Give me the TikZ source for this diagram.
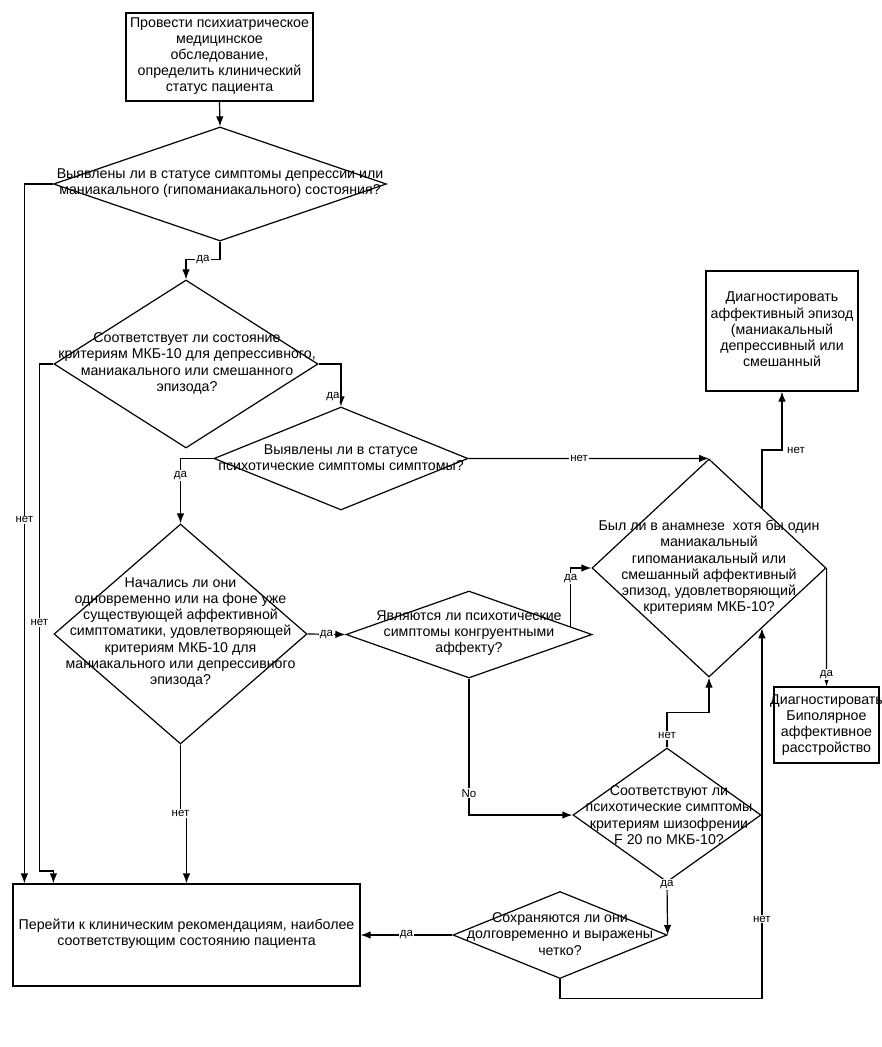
\documentclass[tikz,border=0pt]{standalone}
\usepackage{fontspec}
\setmainfont{Liberation Sans}
\usetikzlibrary{shapes.geometric,arrows.meta,calc}
\begin{document}
\begin{tikzpicture}[x=1pt,y=-1pt,
  box/.style={draw, line width=1.2pt, rectangle, inner sep=0},
  dia/.style={draw, line width=1.2pt, diamond, inner sep=0},
  txt/.style={font=\fontsize{14.2}{16.2}\selectfont, align=center, inner sep=0},
  lbl/.style={font=\fontsize{11.5}{13}\selectfont, fill=white, inner sep=1pt},
  arr/.style={line width=1.2pt, -{Latex[length=10pt,width=7.5pt]}},
  ln/.style={line width=1.2pt}]
\useasboundingbox (0,0) rectangle (881,1047);

% boxes
\node[box, minimum width=187pt, minimum height=88pt] (b1) at (219.5,57) {};
\node[txt] (b1t) at (219.5,56) {Провести психиатрическое\\медицинское\\обследование,\\определить клинический\\статус пациента};

\node[box, minimum width=152pt, minimum height=120pt] (aff) at (782,331) {};
\node[txt] (afft) at (782,329.5) {Диагностировать\\аффективный эпизод\\(маниакальный\\депрессивный или\\смешанный};

\node[box, minimum width=105pt, minimum height=76pt] (bip) at (826.5,725) {};
\node[txt] (bipt) at (826.5,725) {Диагностировать\\Биполярное\\аффективное\\расстройство};

\node[box, minimum width=347pt, minimum height=102pt] (fin) at (186.5,935) {};
\node[txt] (fint) at (186.5,934) {Перейти к клиническим рекомендациям, наиболее\\соответствующим состоянию пациента};

% diamonds
\node[dia, minimum width=333pt, minimum height=114pt] (d1) at (220,184) {};
\node[txt] (d1t) at (220,183) {Выявлены ли в статусе симптомы депрессии или\\маниакального (гипоманиакального) состояния?};

\node[dia, minimum width=264pt, minimum height=168pt] (d2) at (186,364) {};
\node[txt] (d2t) at (187,363.5) {Соответствует ли состояние\\критериям МКБ-10 для депрессивного,\\маниакального или смешанного\\эпизода?};

\node[dia, minimum width=254pt, minimum height=103pt] (d3) at (341,458.5) {};
\node[txt] (d3t) at (341,457.5) {Выявлены ли в статусе\\психотические симптомы симптомы?};

\node[dia, minimum width=253pt, minimum height=220pt] (d4) at (180.5,634) {};
\node[txt] (d4t) at (180.5,632.5) {Начались ли они\\одновременно или на фоне уже\\существующей аффективной\\симптоматики, удовлетворяющей\\критериям МКБ-10 для\\маниакального или депрессивного\\эпизода?};

\node[dia, minimum width=234pt, minimum height=218pt] (d5) at (709,568) {};
\node[txt] (d5t) at (709,567.5) {Был ли в анамнезе~ хотя бы один\\маниакальный\\гипоманиакальный или\\смешанный аффективный\\эпизод, удовлетворяющий\\критериям МКБ-10?};

\node[dia, minimum width=246pt, minimum height=87pt] (d6) at (469,634.5) {};
\node[txt] (d6t) at (469,633) {Являются ли психотические\\симптомы конгруентными\\аффекту?};

\node[dia, minimum width=188pt, minimum height=134pt] (d7) at (667,815) {};
\node[txt] (d7t) at (669,815) {Соответствуют ли\\психотические симптомы\\критериям шизофрении\\F 20 по МКБ-10?};

\node[dia, minimum width=214pt, minimum height=87pt] (d8) at (560,935) {};
\node[txt] (d8t) at (560,934) {Сохраняются ли они\\долговременно и выражены\\четко?};

% connectors
\draw[arr] (b1.south) -- (d1.north);

\draw[arr] (d1.south) -- ++(0,18) coordinate (c1)
  -- node[lbl]{да} (c1 -| d2.north) -- (d2.north);

\draw[arr] (d1.west) -| ([xshift=12pt]fin.north west) node[lbl, pos=0.74]{нет};

\draw[arr] (d2.west) -- ++(-14,0) coordinate (c2)
  -- node[lbl, pos=0.51]{нет} (c2 |- 0,871) coordinate (c3)
  -| ([xshift=41pt]fin.north west);

\draw[arr] (d2.east) -| (d3.north) node[lbl, pos=0.88, left=0pt]{да};

\draw[arr] (d3.west) -| (d4.north) node[lbl, pos=0.63]{да};

\draw[arr] (d3.east) -- node[lbl, pos=0.46]{нет} (d5.north);

\coordinate (p1) at ($(d5.north)!0.45!(d5.east)$);
\draw[arr] (p1) -- (p1 |- 0,450) coordinate (c4) -| (aff.south);
\node[lbl, fill=none, anchor=west] (lnet1) at ($(c4 -| aff.south)+(4,0)$) {нет};

\draw[arr] (d5.east) -- (bip.north) node[lbl, pos=0.9]{да};

\draw[arr] (d4.east) -- node[lbl]{да} (d6.west);

\coordinate (p2) at ($(d6.north)!0.823!(d6.east)$);
\draw[arr] (p2) |- (d5.west) node[lbl, pos=0.41]{да};

\draw[arr] (d6.south) |- (d7.west) node[lbl, pos=0.42]{No};

\draw[arr] (d7.north) -- ++(0,-35) coordinate (c5) -| (d5.south);
\node[lbl] (lnet2) at ($(d7.north)+(0,-12)$) {нет};

\draw[arr] (d7.south) -- (d8.east);
\node[lbl] (lda1) at ($(d7.south)+(0,2)$) {да};

\draw[arr] (d8.west) -- node[lbl]{да} (fin.east);

\coordinate (p3) at ($(d5.east)!0.55!(d5.south)$);
\draw[arr] (d8.south) -- ++(0,19) -| (p3) node[lbl, pos=0.607]{нет};

\draw[arr] (d4.south) -- ++(0,69) node[lbl]{нет} -- ++(6,0) coordinate (j) -- (j |- fin.north);

\end{tikzpicture}
\end{document}
